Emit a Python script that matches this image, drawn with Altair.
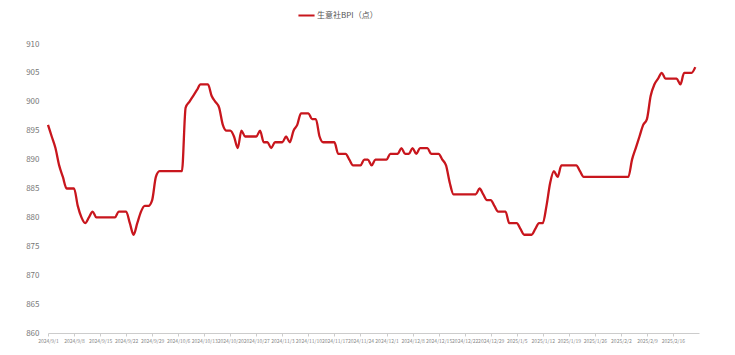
import altair as alt
import pandas as pd

start_date = "2024-09-01"
series_name = "生意社BPI（点）"
bpi_values = [
    896, 894, 892, 889, 887, 885, 885, 885, 882, 880,
    879, 880, 881, 880, 880, 880, 880, 880, 880, 881,
    881, 881, 879, 877, 879, 881, 882, 882, 883, 887,
    888, 888, 888, 888, 888, 888, 888, 899, 900, 901,
    902, 903, 903, 903, 901, 900, 899, 896, 895, 895,
    894, 892, 895, 894, 894, 894, 894, 895, 893, 893,
    892, 893, 893, 893, 894, 893, 895, 896, 898, 898,
    898, 897, 897, 894, 893, 893, 893, 893, 891, 891,
    891, 890, 889, 889, 889, 890, 890, 889, 890, 890,
    890, 890, 891, 891, 891, 892, 891, 891, 892, 891,
    892, 892, 892, 891, 891, 891, 890, 889, 886, 884,
    884, 884, 884, 884, 884, 884, 885, 884, 883, 883,
    882, 881, 881, 881, 879, 879, 879, 878, 877, 877,
    877, 878, 879, 879, 882, 886, 888, 887, 889, 889,
    889, 889, 889, 888, 887, 887, 887, 887, 887, 887,
    887, 887, 887, 887, 887, 887, 887, 890, 892, 894,
    896, 897, 901, 903, 904, 905, 904, 904, 904, 904,
    903, 905, 905, 905, 906,
]
tick_dates = [
    (2024, 9, 1), (2024, 9, 8), (2024, 9, 15), (2024, 9, 22), (2024, 9, 29),
    (2024, 10, 6), (2024, 10, 13), (2024, 10, 20), (2024, 10, 27), (2024, 11, 3),
    (2024, 11, 10), (2024, 11, 17), (2024, 11, 24), (2024, 12, 1), (2024, 12, 8),
    (2024, 12, 15), (2024, 12, 22), (2024, 12, 29), (2025, 1, 5), (2025, 1, 12),
    (2025, 1, 19), (2025, 1, 26), (2025, 2, 2), (2025, 2, 9), (2025, 2, 16),
]
y_ticks = [860, 865, 870, 875, 880, 885, 890, 895, 900, 905, 910]

dates = pd.date_range(start_date, periods=len(bpi_values), freq="D")
df = pd.DataFrame({
    "date": dates.strftime("%Y-%m-%dT00:00:00"),
    "value": bpi_values,
    "series": series_name,
})

font = "Noto Sans CJK SC"
red = "#c8161d"

chart = alt.Chart(df).mark_line(
    color=red, strokeWidth=2.3, interpolate="monotone"
).encode(
    x=alt.X(
        "date:T",
        title=None,
        scale=alt.Scale(domain=[alt.DateTime(year=2024, month=9, date=1),
                                alt.DateTime(year=2025, month=2, date=23)]),
        axis=alt.Axis(
            values=[alt.DateTime(year=y, month=m, date=d) for (y, m, d) in tick_dates],
            format="%Y/%-m/%-d",
            labelFontSize=5,
            labelColor="#888888",
            labelFont=font,
            labelPadding=2,
            labelFlush=False,
            labelOverlap=False,
            tickSize=3,
            tickColor="#cccccc",
            domainColor="#cccccc",
            grid=False,
        ),
    ),
    y=alt.Y(
        "value:Q",
        title=None,
        scale=alt.Scale(domain=[860, 910], nice=False, zero=False),
        axis=alt.Axis(
            values=y_ticks,
            labelFontSize=8,
            labelColor="#777777",
            labelFont=font,
            labelPadding=9,
            ticks=False,
            domain=False,
            grid=False,
        ),
    ),
    color=alt.Color(
        "series:N",
        scale=alt.Scale(range=[red]),
        legend=alt.Legend(
            title=None,
            orient="none",
            legendX=249,
            legendY=-38,
            symbolType="stroke",
            symbolSize=260,
            symbolStrokeWidth=2,
            labelFont=font,
            labelFontSize=8,
            labelColor="#555555",
            labelOffset=1,
        ),
    ),
).properties(
    width=651,
    height=289,
    padding={"left": 48, "top": 44, "right": 36, "bottom": 22},
    autosize="none",
    background="white",
).configure_view(stroke=None)

chart.save("out.html", embed_options={"renderer": "svg", "actions": False})
